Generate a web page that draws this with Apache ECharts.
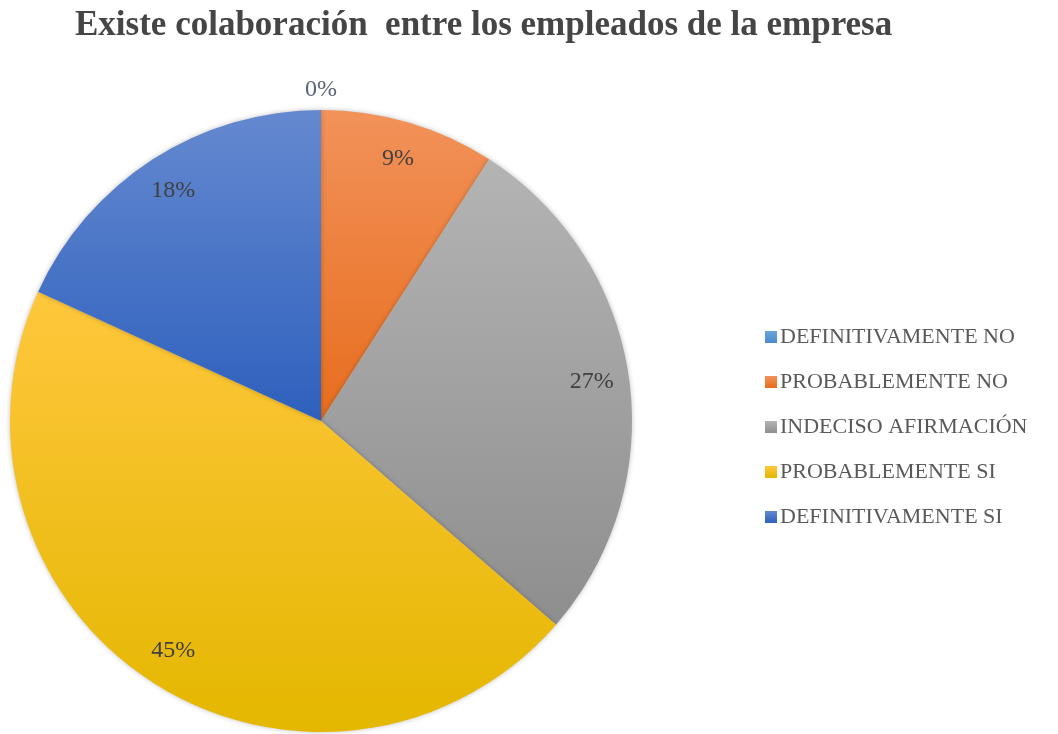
<!DOCTYPE html>
<html>
<head>
<meta charset="utf-8">
<title>Existe colaboración entre los empleados de la empresa</title>
<script src="https://cdn.jsdelivr.net/npm/echarts@6/dist/echarts.min.js"></script>
<style>
  html, body { margin: 0; padding: 0; background: #fff; }
  #pieChart { width: 1058px; height: 734px; }
</style>
</head>
<body>
<div id="pieChart"></div>
<script>
// respuestas (11 encuestados)
let categories = ['DEFINITIVAMENTE NO', 'PROBABLEMENTE NO', 'INDECISO AFIRMACIÓN', 'PROBABLEMENTE SI', 'DEFINITIVAMENTE SI'];
let counts = [0, 1, 3, 5, 2];

// colores tipo Office, claro arriba / oscuro abajo
let colorTop = ['#6aa6dc', '#f2925a', '#b4b4b4', '#ffc73d', '#6589d0'];
let colorBottom = ['#4a8bcb', '#e76d1d', '#8e8e8e', '#e4b700', '#2d60bd'];

function grad(i) {
  return new echarts.graphic.LinearGradient(0, 0, 0, 1, [
    {offset: 0, color: colorTop[i]},
    {offset: 1, color: colorBottom[i]}
  ]);
}

let pieData = categories.map(function (name, i) {
  return {name: name, value: counts[i], itemStyle: {color: grad(i)}};
});

// serie transparente solo para colocar las etiquetas cerca del borde
let labelData = categories.map(function (name, i) {
  let d = {name: name, value: counts[i]};
  if (counts[i] === 0) {
    d.label = {offset: [0, -58], color: '#5a6478'};
  }
  return d;
});

let R = 311;
let center = [321, 421];

let pieOption = {
  animation: false,
  title: {
    text: 'Existe colaboración  entre los empleados de la empresa',
    left: 70,
    top: 3,
    textStyle: {
      fontFamily: 'Liberation Serif',
      fontWeight: 'bold',
      fontSize: 35,
      color: '#454545'
    }
  },
  legend: {
    orient: 'vertical',
    left: 760,
    top: 321,
    itemGap: 23,
    itemWidth: 12,
    itemHeight: 12,
    icon: 'rect',
    data: categories,
    textStyle: {
      fontFamily: 'Liberation Serif',
      fontSize: 22,
      lineHeight: 22,
      color: '#595959',
      padding: [0, 0, 0, -2]
    }
  },
  series: [
    {
      type: 'pie',
      radius: R,
      center: center,
      startAngle: 90,
      clockwise: true,
      label: {show: false},
      labelLine: {show: false},
      itemStyle: {
        shadowBlur: 5,
        shadowColor: 'rgba(0,0,0,0.25)'
      },
      emphasis: {disabled: true},
      data: pieData
    },
    {
      type: 'pie',
      radius: [Math.round(R * 0.74), R],
      center: center,
      startAngle: 90,
      clockwise: true,
      silent: true,
      itemStyle: {color: 'rgba(0,0,0,0)'},
      label: {
        show: true,
        position: 'inside',
        fontFamily: 'Liberation Serif',
        fontSize: 24,
        color: '#404040',
        formatter: function (p) {
          return Math.round(p.percent) + '%';
        }
      },
      labelLine: {show: false},
      emphasis: {disabled: true},
      data: labelData
    }
  ]
};

let pie = document.getElementById('pieChart');
var pieChart = echarts.init(pie);
pieChart.setOption(pieOption);
</script>
</body>
</html>
